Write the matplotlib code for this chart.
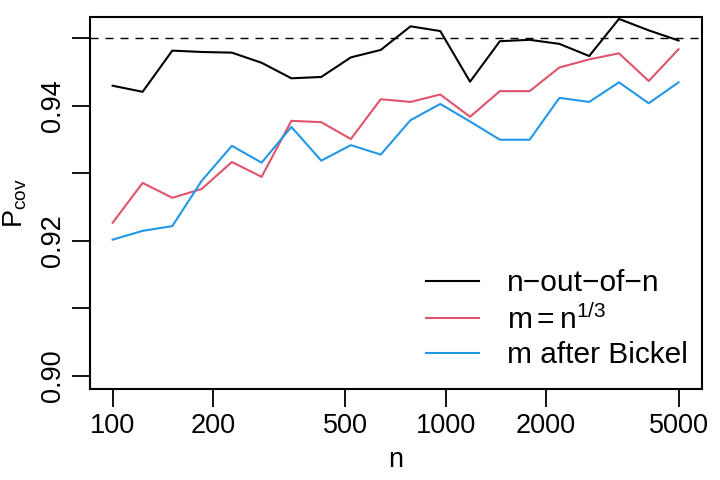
import matplotlib
matplotlib.use('Agg')
import matplotlib.pyplot as plt

plt.rcParams['font.family'] = ['Liberation Sans', 'DejaVu Sans']
plt.rcParams['mathtext.fontset'] = 'custom'
plt.rcParams['mathtext.rm'] = 'Liberation Sans'
plt.rcParams['mathtext.it'] = 'Liberation Sans:italic'

# sample sizes
n = [100, 123, 151, 185, 228, 280, 344, 423, 519, 638,
     784, 963, 1183, 1454, 1786, 2194, 2696, 3312, 4069, 5000]

# coverage probabilities
p_nn = [0.9430, 0.9421, 0.9482, 0.9480, 0.9479, 0.9464, 0.9441, 0.9443, 0.9472, 0.9483,
        0.9518, 0.9511, 0.9436, 0.9496, 0.9498, 0.9492, 0.9474, 0.9529, 0.9512, 0.9497]
p_m13 = [0.9227, 0.9286, 0.9264, 0.9277, 0.9317, 0.9295, 0.9378, 0.9376, 0.9351, 0.9410,
         0.9406, 0.9417, 0.9384, 0.9422, 0.9422, 0.9457, 0.9469, 0.9478, 0.9437, 0.9484]
p_bickel = [0.9202, 0.9215, 0.9222, 0.9289, 0.9341, 0.9316, 0.9369, 0.9319, 0.9342, 0.9328,
            0.9379, 0.9403, 0.9377, 0.9350, 0.9350, 0.9412, 0.9406, 0.9435, 0.9404, 0.9435]

nominal = 0.95
labels = ['n\u2212out\u2212of\u2212n', r'$\mathrm{m = n^{1/3}}$', 'm after Bickel']
colors = ['black', '#DF536B', '#2297E6']

fs = 19.5
fig = plt.figure(figsize=(7.2, 4.8), dpi=100)
ax = fig.add_axes([0.125, 0.189, 0.85, 0.775])

for y, lab, col in zip([p_nn, p_m13, p_bickel], labels, colors):
    ax.plot(n, y, color=col, linewidth=1.5, label=lab)
ax.axhline(nominal, color='black', linewidth=1.0, dashes=(5.8, 5.0))

ax.set_xscale('log')
ax.set_xlim(85.5, 5880)
ax.set_ylim(0.89803, 0.95314)

ax.set_xticks([100, 200, 500, 1000, 2000, 5000])
ax.set_xticklabels(['100', '200', '500', '1000', '2000', '5000'])
ax.xaxis.set_minor_locator(matplotlib.ticker.NullLocator())
ax.set_yticks([0.90, 0.91, 0.92, 0.93, 0.94, 0.95])
ax.set_yticklabels(['0.90', '', '0.92', '', '0.94', ''], rotation=90, va='center')

ax.tick_params(direction='out', length=13, width=1.3, labelsize=fs, pad=4)
for s in ax.spines.values():
    s.set_linewidth(1.5)

ax.set_xlabel('n', fontsize=fs, labelpad=6)
ax.set_ylabel(r'$\mathrm{P_{cov}}$', fontsize=fs, labelpad=8)

ax.legend(loc='lower right', bbox_to_anchor=(1.011, -0.002), frameon=False, fontsize=21.5,
          handlelength=1.75, handletextpad=0.95, labelspacing=0.22, borderaxespad=0.3)

fig.savefig('out.png', dpi=100)
